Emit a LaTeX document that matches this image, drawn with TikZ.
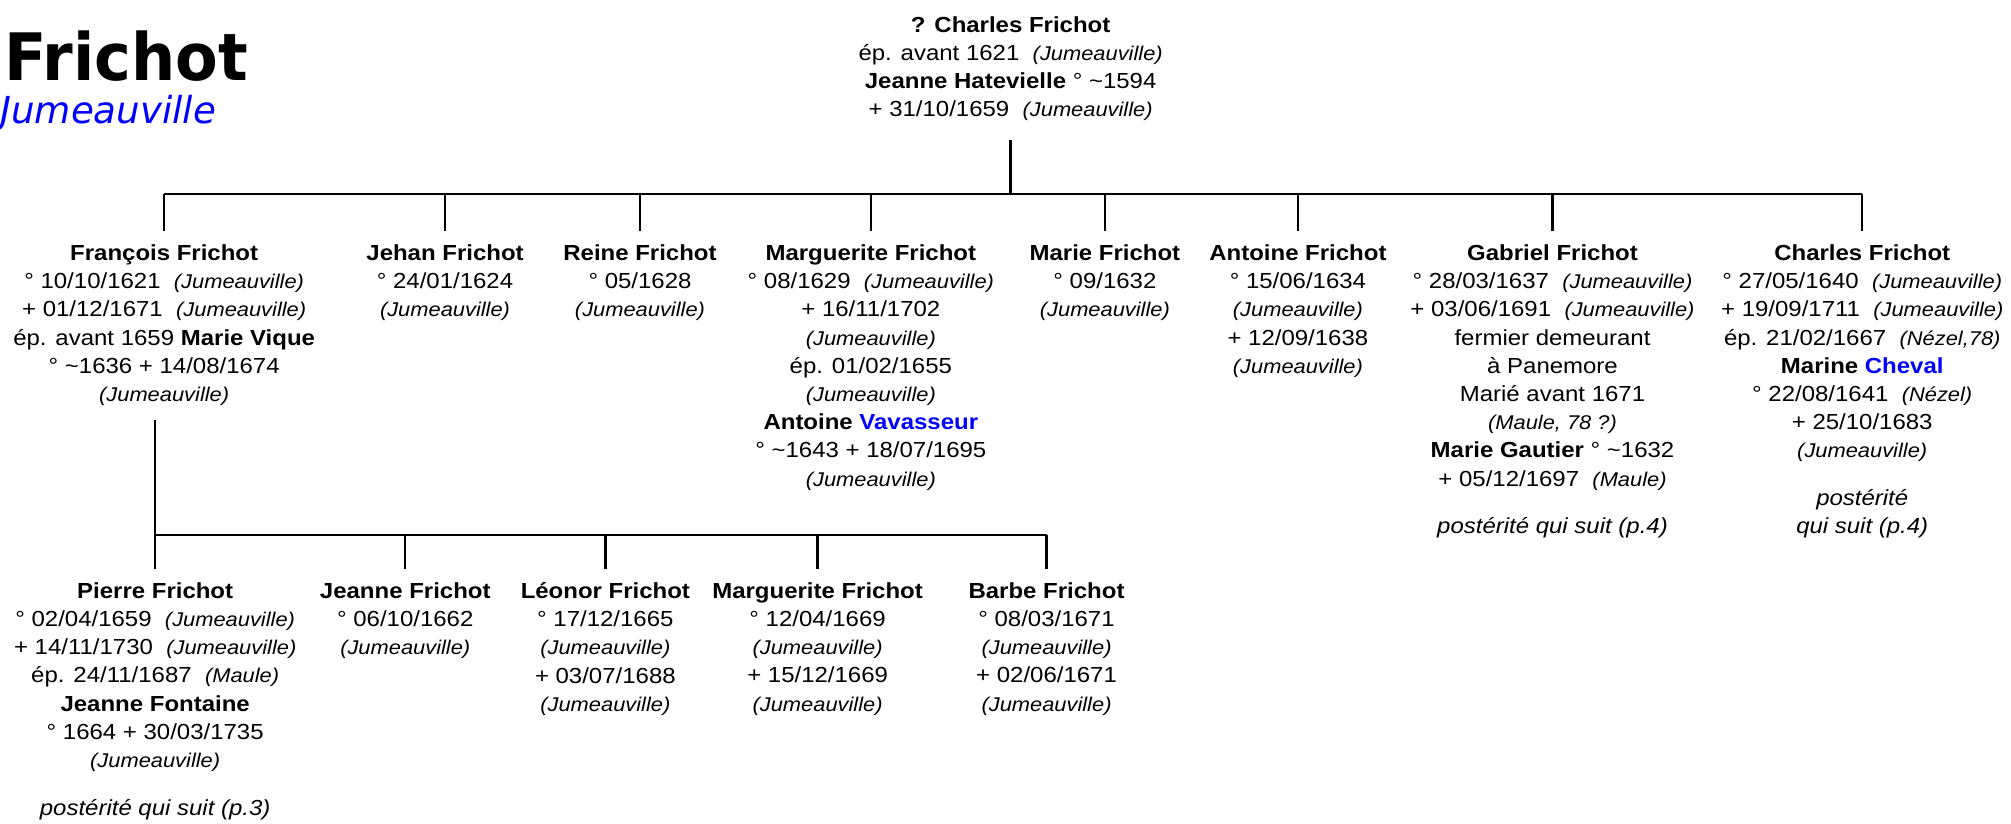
\documentclass[tikz,border=0pt]{standalone}
\usepackage{fontspec}
\setmainfont{Liberation Sans}[FakeStretch=1.1]
\newfontfamily\titrefont{DejaVu Sans}[FakeStretch=0.95]
\newfontfamily\villefont{DejaVu Sans}
\usetikzlibrary{positioning, calc}
\newcommand{\lieu}[1]{{\fontsize{15.5}{22}\selectfont\itshape(#1)}}
\newcommand{\vers}{\textasciitilde}

\begin{document}
\begin{tikzpicture}[x=1pt, y=-1pt,
  personne/.style={align=center, anchor=north, inner sep=0pt, font=\fontsize{17}{22}\selectfont},
  lien/.style={line width=1.8pt}]
\useasboundingbox (0,0) rectangle (1568,642);

\node (titre) at (3,63) [anchor=base west, inner sep=0pt] {\titrefont\bfseries\fontsize{51}{51}\selectfont Frichot};
\node (ville) at (0,96.5) [anchor=base west, inner sep=0pt, text=blue] {\villefont\itshape\fontsize{29}{29}\selectfont Jumeauville};

\node (pere) at (788,12.5) [personne] {\textbf{? Charles Frichot}\\
  ép. avant 1621 \ \lieu{Jumeauville}\\
  \textbf{Jeanne Hatevielle} ° \vers1594\\
  + 31/10/1659 \ \lieu{Jumeauville}};

\node (francois) at (128,190.5) [personne] {\textbf{François Frichot}\\
  ° 10/10/1621 \ \lieu{Jumeauville}\\
  + 01/12/1671 \ \lieu{Jumeauville}\\
  ép. avant 1659 \textbf{Marie Vique}\\
  ° \vers1636 + 14/08/1674\\
  \lieu{Jumeauville}};
\node (jehan) at (347,190.5) [personne] {\textbf{Jehan Frichot}\\
  ° 24/01/1624\\
  \lieu{Jumeauville}};
\node (reine) at (499,190.5) [personne] {\textbf{Reine Frichot}\\
  ° 05/1628\\
  \lieu{Jumeauville}};
\node (marguerite) at (679,190.5) [personne] {\textbf{Marguerite Frichot}\\
  ° 08/1629 \ \lieu{Jumeauville}\\
  + 16/11/1702\\
  \lieu{Jumeauville}\\
  ép. 01/02/1655\\
  \lieu{Jumeauville}\\
  \textbf{Antoine \textcolor{blue}{Vavasseur}}\\
  ° \vers1643 + 18/07/1695\\
  \lieu{Jumeauville}};
\node (marie) at (861.5,190.5) [personne] {\textbf{Marie Frichot}\\
  ° 09/1632\\
  \lieu{Jumeauville}};
\node (antoine) at (1012,190.5) [personne] {\textbf{Antoine Frichot}\\
  ° 15/06/1634\\
  \lieu{Jumeauville}\\
  + 12/09/1638\\
  \lieu{Jumeauville}};
\node (gabriel) at (1210.5,190.5) [personne] {\textbf{Gabriel Frichot}\\
  ° 28/03/1637 \ \lieu{Jumeauville}\\
  + 03/06/1691 \ \lieu{Jumeauville}\\
  fermier demeurant\\
  à Panemore\\
  Marié avant 1671\\
  \lieu{Maule, 78 ?}\\
  \textbf{Marie Gautier} ° \vers1632\\
  + 05/12/1697 \ \lieu{Maule}\\[15pt]
  \textit{postérité qui suit (p.4)}};
\node (charles) at (1452,190.5) [personne] {\textbf{Charles Frichot}\\
  ° 27/05/1640 \ \lieu{Jumeauville}\\
  + 19/09/1711 \ \lieu{Jumeauville}\\
  ép. 21/02/1667 \ \lieu{Nézel,78}\\
  \textbf{Marine \textcolor{blue}{Cheval}}\\
  ° 22/08/1641 \ \lieu{Nézel}\\
  + 25/10/1683\\
  \lieu{Jumeauville}\\[15pt]
  \textit{postérité}\\
  \textit{qui suit (p.4)}};

\node (pierre) at (121,454) [personne] {\textbf{Pierre Frichot}\\
  ° 02/04/1659 \ \lieu{Jumeauville}\\
  + 14/11/1730 \ \lieu{Jumeauville}\\
  ép. 24/11/1687 \ \lieu{Maule}\\
  \textbf{Jeanne Fontaine}\\
  ° 1664 + 30/03/1735\\
  \lieu{Jumeauville}\\[15pt]
  \textit{postérité qui suit (p.3)}};
\node (jeanne) at (316,454) [personne] {\textbf{Jeanne Frichot}\\
  ° 06/10/1662\\
  \lieu{Jumeauville}};
\node (leonor) at (472,454) [personne] {\textbf{Léonor Frichot}\\
  ° 17/12/1665\\
  \lieu{Jumeauville}\\
  + 03/07/1688\\
  \lieu{Jumeauville}};
\node (marguerite2) at (637.5,454) [personne] {\textbf{Marguerite Frichot}\\
  ° 12/04/1669\\
  \lieu{Jumeauville}\\
  + 15/12/1669\\
  \lieu{Jumeauville}};
\node (barbe) at (816,454) [personne] {\textbf{Barbe Frichot}\\
  ° 08/03/1671\\
  \lieu{Jumeauville}\\
  + 02/06/1671\\
  \lieu{Jumeauville}};

\coordinate (barre1) at (788,151);
\coordinate (barre2) at (121,417);

\draw [lien] ([yshift=-15pt]pere.south) -- (barre1);
\draw [lien] (francois.north |- barre1) -- (charles.north |- barre1);
\foreach \e in {francois,jehan,reine,marguerite,marie,antoine,gabriel,charles}
  \draw [lien] (\e.north |- barre1) -- ([yshift=10pt]\e.north);

\draw [lien] ([yshift=-11pt]francois.south -| barre2) -- (barre2);
\draw [lien] (pierre.north |- barre2) -- (barbe.north |- barre2);
\foreach \e in {pierre,jeanne,leonor,marguerite2,barbe}
  \draw [lien] (\e.north |- barre2) -- ([yshift=10pt]\e.north);

\end{tikzpicture}
\end{document}
